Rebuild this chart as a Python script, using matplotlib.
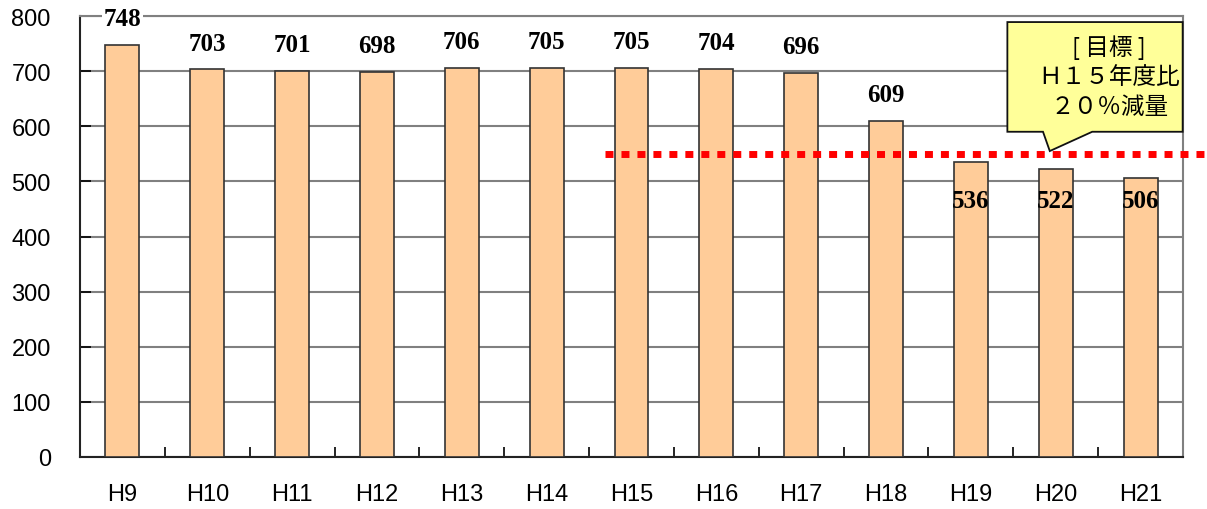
import matplotlib.pyplot as plt
from matplotlib.patches import Polygon

# yearly totals
years = ['H9', 'H10', 'H11', 'H12', 'H13', 'H14', 'H15',
         'H16', 'H17', 'H18', 'H19', 'H20', 'H21']
totals = [748, 703, 701, 698, 706, 705, 705, 704, 696, 609, 536, 522, 506]
target = 550
yticks = [0, 100, 200, 300, 400, 500, 600, 700, 800]

plt.rcParams['font.family'] = ['Liberation Sans', 'DejaVu Sans']

fig = plt.figure(figsize=(12.07, 5.10), dpi=100)
ax = fig.add_axes([80 / 1207, 52 / 510, 1103 / 1207, 441 / 510])

x = list(range(len(years)))
ax.bar(x, totals, width=0.4, color='#FFCC99', edgecolor='#333333',
       linewidth=1.2, zorder=3)

ax.set_xlim(-0.5, len(years) - 0.5)
ax.set_ylim(0, 800)
ax.set_yticks(yticks)
ax.set_xticks(x)
ax.set_xticklabels(years)
ax.set_xticks([i + 0.5 for i in x[:-1]], minor=True)
ax.tick_params(axis='y', direction='in', length=8, pad=21, labelsize=17,
               width=1.2)
ax.tick_params(axis='x', which='major', length=0, pad=19, labelsize=17)
ax.tick_params(axis='x', which='minor', direction='in', length=7, width=1.2)
ax.yaxis.grid(True, color='#808080', linewidth=1.5, zorder=0)
ax.set_axisbelow(True)

for side in ('top', 'right'):
    ax.spines[side].set_color('#808080')
    ax.spines[side].set_linewidth(1.5)
for side in ('left', 'bottom'):
    ax.spines[side].set_color('#222222')
    ax.spines[side].set_linewidth(1.5)

# value labels: above the bar, or inside once below the target
for i, v in enumerate(totals):
    if v < target:
        ax.text(i, 466, str(v), ha='center', va='center',
                family='Liberation Serif', fontweight='bold', fontsize=18,
                zorder=5)
    else:
        ax.annotate(str(v), (i, v), xytext=(0, 19), textcoords='offset points',
                    ha='center', va='center', family='Liberation Serif',
                    fontweight='bold', fontsize=18, zorder=5,
                    bbox=dict(facecolor='white', edgecolor='none', pad=1))

# target line from H15 onwards
ax.plot([5.69, 12.79], [target, target], color='#FF0000', linewidth=5,
        linestyle=(0, (1.15, 1.15)), solid_capstyle='butt',
        clip_on=False, zorder=4)

# callout box
callout = Polygon([(10.43, 789), (12.496, 789), (12.496, 590), (11.43, 590),
                   (10.93, 555), (10.85, 590), (10.43, 590)],
                  closed=True, facecolor='#FFFF99', edgecolor='#111111',
                  linewidth=1.3, zorder=6, clip_on=False)
ax.add_patch(callout)
ax.text(11.63, 691, '[ 目標 ]\nＨ１５年度比\n２０％減量', ha='center', va='center',
        family=['Noto Sans CJK JP', 'DejaVu Sans'], fontsize=17,
        linespacing=1.38, zorder=7)

fig.savefig('out.png', dpi=100)
